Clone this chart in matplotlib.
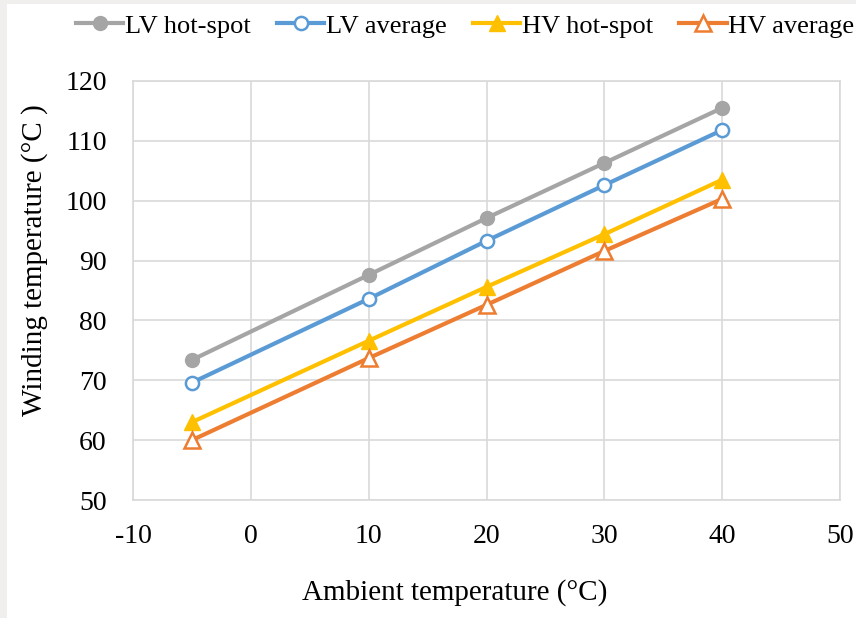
import matplotlib.pyplot as plt
from matplotlib.patches import Rectangle

plt.rcParams['font.family'] = ['Liberation Serif', 'DejaVu Serif']
plt.rcParams['axes.unicode_minus'] = False

ambient = [-5, 10, 20, 30, 40]
lv_hot = [73.4, 87.6, 97.1, 106.3, 115.5]
lv_avg = [69.6, 83.6, 93.3, 102.6, 111.8]
hv_hot = [63.0, 76.6, 85.6, 94.4, 103.5]
hv_avg = [60.0, 73.7, 82.6, 91.6, 100.3]

fig = plt.figure(figsize=(8.56, 6.18), dpi=100, facecolor='#f0efed')
# white page area, leaving a thin grey frame at left and top
fig.patches.append(Rectangle((7 / 856, 0), 1, 1 - 4 / 618, transform=fig.transFigure,
                             facecolor='white', edgecolor='none', zorder=-5))

ax = fig.add_axes([133 / 856, 1 - 500 / 618, (840 - 133) / 856, (500 - 81) / 618])
ax.set_zorder(2)
ax.set_facecolor('white')

grid_c = '#d9d9d9'
lw = 3
ax.plot(ambient, lv_hot, color='#a5a5a5', lw=lw, marker='o', ms=10,
        mfc='#a5a5a5', mec='#a5a5a5', label='LV hot-spot')
ax.plot(ambient, lv_avg, color='#5b9bd5', lw=lw, marker='o', ms=9.5,
        mfc='white', mec='#5b9bd5', mew=1.8, label='LV average')
ax.plot(ambient, hv_hot, color='#ffc000', lw=lw, marker='^', ms=12,
        mfc='#ffc000', mec='#ffc000', label='HV hot-spot')
ax.plot(ambient, hv_avg, color='#ed7d31', lw=lw, marker='^', ms=12,
        mfc='white', mec='#ed7d31', mew=1.8, label='HV average')

ax.set_xlim(-10, 50)
ax.set_ylim(50, 120)
ax.set_xticks(range(-10, 51, 10))
ax.set_yticks(range(50, 121, 10))
ax.grid(True, color=grid_c, lw=1.2)
ax.set_axisbelow(True)
for s in ax.spines.values():
    s.set_color(grid_c)
    s.set_linewidth(1.2)
ax.tick_params(length=0, labelsize=20, colors='black')
ax.tick_params(axis='x', pad=17)
ax.tick_params(axis='y', pad=19)

ax.set_xlabel('Ambient temperature (°C)', fontsize=21, va='center')
ax.set_ylabel('Winding temperature (°C )', fontsize=21, va='center')
ax.xaxis.set_label_coords(0.455, -0.22)
ax.yaxis.set_label_coords(-0.139, 0.573)

leg = fig.legend(loc='center', bbox_to_anchor=(465 / 856, 1 - 26 / 618), ncol=4,
                 frameon=False, fontsize=19, handlelength=1.8, handletextpad=0.05,
                 columnspacing=1.0, borderpad=0)

fig.savefig('out.png', dpi=100, facecolor=fig.get_facecolor())
